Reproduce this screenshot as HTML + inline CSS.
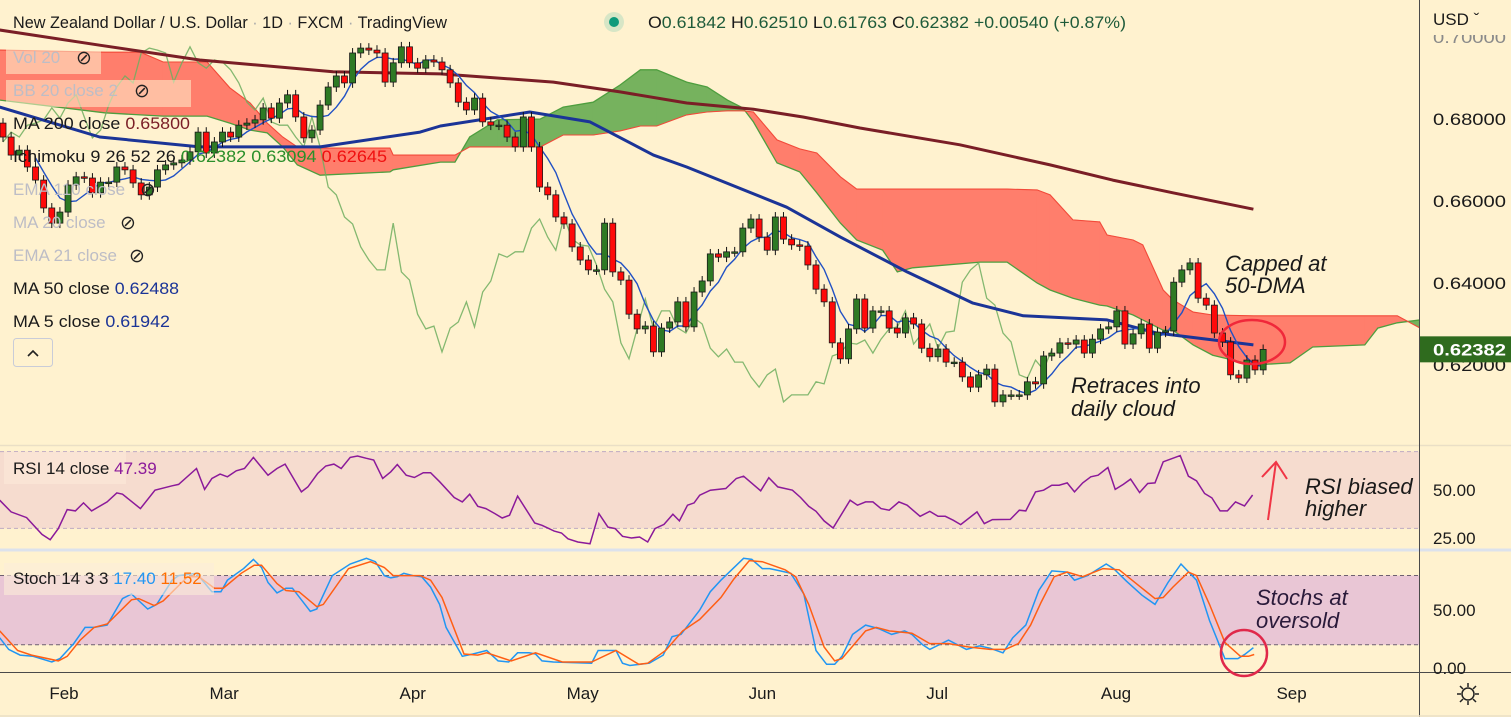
<!DOCTYPE html>
<html><head><meta charset="utf-8">
<style>
html,body{margin:0;padding:0;background:#FFF2CF;}
svg{display:block;font-family:"Liberation Sans","DejaVu Sans",sans-serif;}
</style></head>
<body>
<svg id="chart" width="1511" height="717" viewBox="0 0 1511 717" xmlns="http://www.w3.org/2000/svg">
<rect x="0" y="0" width="1511" height="717" fill="#FFF2CF"/>
<g id="main"></g>
<g id="rsi"></g>
<g id="stoch"></g>
<g id="ui"></g>
</svg>
<script>
// ---------- DATA ----------
const closes = [0.6756,0.6712,0.6724,0.6683,0.6651,0.6583,0.6546,0.6573,0.6639,0.6659,0.6656,0.6620,0.6646,0.6646,0.6683,0.6676,0.6644,0.6615,0.6634,0.6676,0.6688,0.6693,0.6700,0.6720,0.6768,0.6717,0.6744,0.6768,0.6756,0.6785,0.6790,0.6798,0.6827,0.6802,0.6839,0.6859,0.6805,0.6754,0.6773,0.6834,0.6878,0.6905,0.6888,0.6961,0.6973,0.6968,0.6961,0.6890,0.6937,0.6976,0.6937,0.6924,
0.6944,0.6939,0.6920,0.6888,0.6841,0.6822,0.6851,0.6793,0.6785,0.6785,0.6756,0.6732,0.6805,0.6732,0.6634,0.6615,0.6561,0.6544,0.6488,0.6456,0.6432,0.6432,0.6546,0.6427,0.6407,0.6324,0.6288,0.6295,0.6232,0.6290,0.6305,0.6354,0.6293,0.6378,0.6405,0.6471,0.6463,0.6476,0.6476,0.6534,0.6556,0.6512,0.6480,0.6561,0.6507,0.6493,0.6490,0.6444,0.6385,0.6354,0.6254,0.6215,
0.6288,0.6361,0.6290,0.6332,0.6332,0.6290,0.6278,0.6315,0.6300,0.6241,0.6220,0.6239,0.6207,0.6207,0.6171,0.6146,0.6176,0.6190,0.6110,0.6127,0.6127,0.6127,0.6159,0.6154,0.6222,0.6229,0.6254,0.6251,0.6261,0.6229,0.6263,0.6288,0.6293,0.6332,0.6251,0.6276,0.6300,0.6241,0.6280,0.6283,0.6402,0.6432,0.6449,0.6363,0.6346,0.6278,0.6256,0.6176,0.6168,0.6212,0.6188,0.6238];
const firstOpen = 0.6790;

const cloudIdx = [-0.4,12.5,16.9,19.7,25.1,27.9,30.4,32.5,34.4,36.2,39.0,47.6,48.0,53.8,55.6,57.4,60.8,66.1,68.9,72.6,75.9,78.4,80.4,84.1,86.6,89.1,91.0,92.3,95.2,98.0,100.1,103.0,105.0,108.2,110.0,111.9,120.2,123.5,127.2,128.8,131.6,134.9,135.8,139.0,140.2,142.7,143.9,146.4,148.8,153.8,158.3,161.1,167.5,169.1,171.5,174.3];
const spanA = [0.6846,0.6815,0.6810,0.6807,0.6807,0.6790,0.6773,0.6766,0.6732,0.6688,0.6663,0.6671,0.6676,0.6695,0.6695,0.6756,0.6798,0.6800,0.6829,0.6841,0.6883,0.6920,0.6920,0.6890,0.6878,0.6846,0.6827,0.6793,0.6693,0.6671,0.6620,0.6546,0.6505,0.6480,0.6427,0.6437,0.6451,0.6451,0.6400,0.6383,0.6363,0.6346,0.6344,0.6322,0.6310,0.6285,0.6285,0.6249,0.6224,0.6200,0.6205,0.6244,0.6249,0.6290,0.6303,0.6310];
const spanB = [0.6968,0.6963,0.6963,0.6939,0.6939,0.6876,0.6839,0.6790,0.6756,0.6732,0.6729,0.6729,0.6712,0.6712,0.6712,0.6732,0.6732,0.6732,0.6761,0.6761,0.6771,0.6783,0.6783,0.6810,0.6817,0.6820,0.6820,0.6817,0.6749,0.6727,0.6717,0.6659,0.6629,0.6629,0.6629,0.6629,0.6629,0.6629,0.6627,0.6615,0.6554,0.6549,0.6517,0.6505,0.6493,0.6383,0.6359,0.6329,0.6322,0.6320,0.6320,0.6320,0.6320,0.6320,0.6320,0.6290];

const ma50Idx = [-0.4,11.9,24.2,39.0,51.3,53.8,64.8,72.2,80.0,84.1,96.4,103.0,111.2,119.3,125.5,135.8,141.9,153.8];
const ma50Val = [0.6829,0.6756,0.6732,0.6732,0.6768,0.6783,0.6817,0.6793,0.6712,0.6683,0.6585,0.6512,0.6427,0.6351,0.6320,0.6310,0.6278,0.6249];
const ma200Idx = [-0.4,11.9,24.2,40.6,53.8,67.7,75.9,84.1,92.3,98.4,105.4,117.7,128.8,136.5,143.9,153.8];
const ma200Val = [0.7017,0.6980,0.6944,0.6915,0.6910,0.6890,0.6866,0.6839,0.6824,0.6805,0.6778,0.6737,0.6688,0.6651,0.6620,0.6580];

const rsiIdx = [-0.4,1.0,2.9,4.8,5.8,6.8,7.9,8.9,9.9,10.9,12.8,14.0,14.7,16.9,18.7,20.8,21.6,23.8,24.8,25.7,26.7,27.6,28.7,29.7,30.8,32.6,33.7,34.7,36.7,37.5,38.7,39.7,40.7,41.6,42.7,43.6,44.7,45.6,46.7,47.7,48.5,49.6,50.6,51.7,52.6,53.7,55.5,56.5,57.4,58.4,59.4,60.5,61.4,62.3,63.3,65.4,66.3,67.8,68.7,69.5,70.7,72.2,73.3,74.4,75.3,76.2,77.3,78.3,79.3,80.2,81.3,82.4,83.2,84.2,85.0,85.7,
87.0,88.9,90.2,91.1,93.2,94.2,95.3,97.1,98.1,99.1,100.0,101.0,102.1,104.2,105.1,106.1,107.0,108.0,109.0,110.2,111.2,112.8,114.0,115.0,115.9,116.9,117.8,119.8,120.7,121.7,123.9,125.0,125.8,127.0,128.0,129.0,129.9,130.9,131.8,132.8,133.8,134.7,135.9,136.8,137.8,138.7,139.8,140.8,141.7,142.7,144.8,145.8,146.8,147.8,148.7,149.7,150.6,151.6,152.7,153.7];
const rsiVal = [44.7,38.6,35.6,26.9,24.1,29.9,39.8,39.1,43.3,39.1,43.8,48.5,47.8,40.3,49.9,52.2,52.9,61.2,50.3,56.0,58.3,56.9,60.0,61.2,67.0,57.7,61.2,63.5,49.0,51.6,58.6,62.5,63.5,61.2,67.0,67.7,66.5,65.6,56.0,59.5,63.3,57.7,56.5,59.0,59.0,54.3,46.1,43.8,47.8,41.5,40.3,37.7,35.4,36.8,46.8,32.8,31.6,28.6,27.6,24.6,22.9,22.0,37.7,30.7,29.9,25.9,25.0,25.5,22.9,29.9,32.1,37.4,33.9,42.1,43.3,47.3,
49.9,50.8,56.0,57.2,49.6,56.4,51.6,49.9,46.1,41.5,38.9,33.9,30.2,44.7,42.1,43.8,43.8,40.3,39.5,43.8,42.1,36.3,38.9,36.3,36.3,34.2,32.0,38.6,32.5,34.6,34.7,39.5,39.1,49.0,49.9,52.5,52.5,53.7,49.0,53.7,56.9,57.7,61.7,50.3,52.9,55.7,48.7,53.4,53.7,64.7,67.9,57.2,54.8,48.2,45.9,39.1,39.1,43.8,41.7,47.4];

const kIdx = [-0.4,0.7,2.1,3.7,6.0,7.0,8.7,10.1,11.2,12.8,14.7,15.8,17.8,18.9,20.8,21.6,23.8,25.7,26.8,27.6,29.6,30.8,31.8,32.6,33.7,34.8,35.6,37.8,38.6,40.5,42.7,44.7,45.8,46.9,47.7,48.5,49.3,50.4,51.5,52.6,53.7,54.5,56.5,57.8,59.5,60.9,62.2,63.3,64.7,65.5,66.3,67.7,72.4,73.2,75.4,76.2,77.1,78.4,79.5,81.2,82.3,83.4,84.6,85.7,
87.0,88.3,91.1,92.1,93.4,94.3,95.6,96.9,98.5,100.0,101.3,102.3,103.2,104.5,106.1,107.7,109.3,110.9,111.8,113.1,114.0,116.3,118.5,120.1,121.4,123.0,124.2,125.8,127.4,129.0,130.9,131.8,133.4,135.7,136.6,138.2,140.1,141.7,143.3,144.9,146.8,148.4,150.3,151.9,152.8,153.8];
const kVal = [26,16,11,10,5,8,21,35,35,37,60,64,51,55,76,80,82,66,66,76,86,94,87,74,65,69,69,49,51,80,90,95,92,80,78,79,82,80,79,70,55,35,10,12,15,6,5,13,13,12,6,5,4,15,15,4,2,3,4,11,27,29,40,50,
66,76,95,94,86,86,84,82,64,15,3,3,10,29,37,34,29,32,29,20,16,24,16,19,17,13,26,37,67,84,83,76,80,90,86,75,63,55,74,90,76,41,8,8,12,17.4];
const dIdx = [-0.4,1.8,3.5,6.8,7.9,9.5,11.2,12.8,15.8,16.7,18.6,19.7,22.7,24.1,26.0,27.1,29.3,30.9,31.8,33.7,34.8,36.4,38.6,39.4,42.5,45.2,46.9,48.0,51.3,52.6,54.0,56.7,58.4,59.5,62.5,65.5,68.8,72.4,75.4,78.2,79.3,81.5,83.6,85.7,
88.3,89.9,91.8,93.4,96.2,97.5,99.1,101.0,102.3,103.2,106.1,107.4,109.0,111.8,114.0,116.3,118.8,121.4,123.3,124.9,126.4,127.7,129.3,130.9,132.8,135.3,137.3,140.1,141.7,142.7,143.9,145.8,146.8,148.4,150.3,152.2,153.2,153.9];
const dVal = [32,15,11,6,10,24,35,38,59,60,54,58,79,79,69,69,82,89,89,73,67,66,53,55,86,92,87,80,80,76,61,12,11,13,6,13,5,5,15,3,4,15,32,42,
61,77,93,92,85,79,55,18,6,8,32,35,32,30,21,21,18,16,16,21,37,57,79,83,79,86,85,69,60,61,70,83,80,55,22,10,10,11.5];

const priceTicks = [0.70,0.68,0.66,0.64,0.62];
const priceTickLabels = ["0.70000","0.68000","0.66000","0.64000","0.62000"];
const months = ["Feb","Mar","Apr","May","Jun","Jul","Aug","Sep"];
const monthIdx = [7.5,27.2,50.4,71.3,93.4,114.9,136.9,158.5];
const lastPrice = 0.62382;

// ---------- AXES ----------
const NS = "http://www.w3.org/2000/svg";
const xOf = i => 3 + 8.13 * i;
const yP = p => 365 - (p - 0.62) * 4100;
const yR = v => 490 - (v - 50) * 1.92;
const yS = v => 667.8 - v * 1.153;

function mk(parent, tag, attrs, text) {
  const e = document.createElementNS(NS, tag);
  for (const k in attrs) e.setAttribute(k, attrs[k]);
  if (text !== undefined) e.textContent = text;
  parent.appendChild(e);
  return e;
}
const main = document.getElementById('main');
const rsiG = document.getElementById('rsi');
const stG = document.getElementById('stoch');
const ui = document.getElementById('ui');

const defs = mk(document.getElementById('chart'), 'defs', {});
const cp = mk(defs, 'clipPath', {id: 'mainclip'});
mk(cp, 'rect', {x: 0, y: 0, width: 1419, height: 445});
main.setAttribute('clip-path', 'url(#mainclip)');

// ---------- CLOUD ----------
const cloudG = mk(main, 'g', {});


for (let i = 0; i < cloudIdx.length - 1; i++) {
  const x0 = xOf(cloudIdx[i]), x1 = xOf(cloudIdx[i + 1]);
  const a0 = spanA[i], a1 = spanA[i + 1], b0 = spanB[i], b1 = spanB[i + 1];
  const d0 = a0 - b0, d1 = a1 - b1;
  const segs = [];
  if (d0 * d1 >= 0) segs.push([x0, a0, b0, x1, a1, b1, (d0 + d1) >= 0]);
  else {
    const t = d0 / (d0 - d1), xm = x0 + (x1 - x0) * t, pm = a0 + (a1 - a0) * t;
    segs.push([x0, a0, b0, xm, pm, pm, d0 > 0]);
    segs.push([xm, pm, pm, x1, a1, b1, d1 > 0]);
  }
  for (const s of segs) {
    const poly = mk(cloudG, 'polygon', {
      points: `${s[0]},${yP(s[1])} ${s[3]},${yP(s[4])} ${s[3]},${yP(s[5])} ${s[0]},${yP(s[2])}`,
      fill: s[6] ? '#76B25E' : '#FF7E6C', stroke: s[6] ? '#76B25E' : '#FF7E6C', 'stroke-width': 0.6
    });
    
    
  }
}
function polyline(parent, xs, ys, attrs, name) {
  const pts = xs.map((x, i) => `${x.toFixed(1)},${ys[i].toFixed(1)}`).join(' ');
  const e = mk(parent, 'polyline', Object.assign({points: pts, fill: 'none'}, attrs));
  
  
  return e;
}
polyline(main, cloudIdx.map(xOf), spanA.map(yP), {stroke: '#4E9E3F', 'stroke-width': 1.3}, 'senkou-span-a');
polyline(main, cloudIdx.map(xOf), spanB.map(yP), {stroke: '#F24A3A', 'stroke-width': 1.1}, 'senkou-span-b');

const chX = [], chY = [];
for (let i = 26; i < closes.length; i++) { chX.push(xOf(i - 26)); chY.push(yP(closes[i])); }
polyline(main, chX, chY, {stroke: '#6FAE5F', 'stroke-width': 1.3, opacity: 0.85}, 'chikou-span');

polyline(main, ma200Idx.map(xOf), ma200Val.map(yP), {stroke: '#7A1E26', 'stroke-width': 3, 'stroke-linejoin': 'round'}, 'ma200-line');
polyline(main, ma50Idx.map(xOf), ma50Val.map(yP), {stroke: '#1B3497', 'stroke-width': 3, 'stroke-linejoin': 'round'}, 'ma50-line');
const m5x = [], m5y = [];
for (let i = 4; i < closes.length; i++) {
  let s = 0; for (let k = i - 4; k <= i; k++) s += closes[k];
  m5x.push(xOf(i)); m5y.push(yP(s / 5));
}
polyline(main, m5x, m5y, {stroke: '#2151C4', 'stroke-width': 1.4}, 'ma5-line');

const candleG = mk(main, 'g', {});


for (let i = 0; i < closes.length; i++) {
  const o = i === 0 ? firstOpen : closes[i - 1], c = closes[i];
  const up = c >= o;
  const hi = Math.max(o, c) + 0.0012, lo = Math.min(o, c) - 0.0012;
  const x = xOf(i);
  const w = mk(candleG, 'line', {x1: x, x2: x, y1: yP(hi), y2: yP(lo), stroke: '#111', 'stroke-width': 1});
  
  
  const top = yP(Math.max(o, c)), h = Math.max(1.5, yP(Math.min(o, c)) - top);
  const b = mk(candleG, 'rect', {x: x - 3, y: top, width: 6, height: h, fill: up ? '#2E7A24' : '#FF0A0A', stroke: '#1a1a1a', 'stroke-width': 0.8});
  
  
}

// ---------- RSI ----------
mk(rsiG, 'rect', {x: 0, y: yR(70), width: 1419, height: yR(30) - yR(70), fill: '#F6DCCF'});
mk(rsiG, 'line', {x1: 0, x2: 1419, y1: yR(70), y2: yR(70), stroke: '#BFA9C2', 'stroke-dasharray': '4 3'});
mk(rsiG, 'line', {x1: 0, x2: 1419, y1: yR(30), y2: yR(30), stroke: '#BFA9C2', 'stroke-dasharray': '4 3'});
polyline(rsiG, rsiIdx.map(xOf), rsiVal.map(yR), {stroke: '#8B1A9A', 'stroke-width': 1.5}, 'rsi-line');

// ---------- STOCH ----------
mk(stG, 'rect', {x: 0, y: yS(80), width: 1419, height: yS(20) - yS(80), fill: '#E9C6D5'});
mk(stG, 'line', {x1: 0, x2: 1419, y1: yS(80), y2: yS(80), stroke: '#6E6070', 'stroke-dasharray': '4 3'});
mk(stG, 'line', {x1: 0, x2: 1419, y1: yS(20), y2: yS(20), stroke: '#6E6070', 'stroke-dasharray': '4 3'});
polyline(stG, kIdx.map(xOf), kVal.map(yS), {stroke: '#2196F3', 'stroke-width': 1.5}, 'stoch-k-line');
polyline(stG, dIdx.map(xOf), dVal.map(yS), {stroke: '#FF5E14', 'stroke-width': 1.5}, 'stoch-d-line');

// ---------- FRAME / AXES ----------
mk(ui, 'line', {x1: 0, x2: 1511, y1: 445.5, y2: 445.5, stroke: '#EADFC6', 'stroke-width': 1.5});
mk(ui, 'rect', {x: 0, y: 548.5, width: 1511, height: 3, fill: '#DCE2EC'});
mk(ui, 'line', {x1: 0, x2: 1511, y1: 672.5, y2: 672.5, stroke: '#4A4A4A', 'stroke-width': 1});
mk(ui, 'line', {x1: 1419.5, x2: 1419.5, y1: 0, y2: 717, stroke: '#4A4A4A', 'stroke-width': 1});
mk(ui, 'line', {x1: 0, x2: 1511, y1: 716, y2: 716, stroke: '#EADFC6', 'stroke-width': 1.5});

priceTicks.forEach((p, i) => {
  const t = mk(ui, 'text', {x: 1433, y: yP(p) + 6, 'font-size': 17, textLength: 73, lengthAdjust: 'spacingAndGlyphs', fill: i === 0 ? '#8a8a8a' : '#1a1a1a'}, priceTickLabels[i]);
  
  
});
mk(ui, 'rect', {x: 1421, y: 0, width: 90, height: 35, fill: '#FFF2CF'});
const usd = mk(ui, 'text', {x: 1433, y: 25, 'font-size': 17, fill: '#1a1a1a'}, 'USD \u02C7');



const lp = mk(ui, 'rect', {x: 1420, y: yP(lastPrice) - 13, width: 91, height: 26, fill: '#2F6B1E'});


mk(ui, 'text', {x: 1433, y: yP(lastPrice) + 6, 'font-size': 17, textLength: 73, lengthAdjust: 'spacingAndGlyphs', 'font-weight': 'bold', fill: '#fff'}, lastPrice.toFixed(5));

[['50.00', yR(50)], ['25.00', yR(25)], ['50.00', yS(50)], ['0.00', yS(0)]].forEach(([s, y]) => {
  const t = mk(ui, 'text', {x: 1433, y: y + 6, 'font-size': 17, fill: '#1a1a1a'}, s);
  
  
});
months.forEach((m, i) => {
  const t = mk(ui, 'text', {x: xOf(monthIdx[i]), y: 699, 'font-size': 17, fill: '#1a1a1a', 'text-anchor': 'middle'}, m);
  
  
});
</script>

<svg style="position:absolute;left:0;top:0" width="1511" height="717" viewBox="0 0 1511 717" xmlns="http://www.w3.org/2000/svg">
  <g font-family="Liberation Sans, DejaVu Sans, sans-serif">
  <text x="13" y="28" font-size="17" textLength="434" lengthAdjust="spacingAndGlyphs" fill="#1a1a1a">New Zealand Dollar / U.S. Dollar <tspan fill="#aaa">·</tspan> 1D <tspan fill="#aaa">·</tspan> FXCM <tspan fill="#aaa">·</tspan> TradingView</text>
  <circle cx="614" cy="22" r="10" fill="#D7E6C6"/>
  <circle cx="614" cy="22" r="5" fill="#0E9A7A"/>
  <text x="648" y="28" font-size="17" textLength="478" lengthAdjust="spacingAndGlyphs" fill="#1E5B3A"><tspan fill="#1a1a1a">O</tspan>0.61842 <tspan fill="#1a1a1a">H</tspan>0.62510 <tspan fill="#1a1a1a">L</tspan>0.61763 <tspan fill="#1a1a1a">C</tspan>0.62382 +0.00540 (+0.87%)</text>

  <g font-size="17">
    <rect x="6" y="47" width="95" height="27" fill="#FFF2CF" opacity="0.55"/>
    <text x="13" y="63" fill="#BDBDC6">Vol 20</text>
    <text x="76" y="64" font-size="19" fill="#222">⊘</text>
    <rect x="6" y="80" width="185" height="27" fill="#FFF2CF" opacity="0.55"/>
    <text x="13" y="96" fill="#BDBDC6">BB 20 close 2</text>
    <text x="134" y="97" font-size="19" fill="#222">⊘</text>
    <text x="13" y="129" textLength="177" lengthAdjust="spacingAndGlyphs" fill="#1a1a1a">MA 200 close <tspan fill="#7A1E26">0.65800</tspan></text>
    <text x="13" y="162" textLength="374" lengthAdjust="spacingAndGlyphs" fill="#1a1a1a">Ichimoku 9 26 52 26 <tspan fill="#2A8F2A">0.62382</tspan> <tspan fill="#2A8F2A">0.63094</tspan> <tspan fill="#F01010">0.62645</tspan></text>
    <text x="13" y="195" fill="#BDBDC6">EMA 110 close</text>
    <text x="140" y="196" font-size="19" fill="#222">⊘</text>
    <text x="13" y="228" fill="#BDBDC6">MA 20 close</text>
    <text x="120" y="229" font-size="19" fill="#222">⊘</text>
    <text x="13" y="261" fill="#BDBDC6">EMA 21 close</text>
    <text x="129" y="262" font-size="19" fill="#222">⊘</text>
    <text x="13" y="294" textLength="166" lengthAdjust="spacingAndGlyphs" fill="#1a1a1a">MA 50 close <tspan fill="#1B3497">0.62488</tspan></text>
    <text x="13" y="327" textLength="157" lengthAdjust="spacingAndGlyphs" fill="#1a1a1a">MA 5 close <tspan fill="#1B3497">0.61942</tspan></text>
    <rect x="13.5" y="338.5" width="39" height="28" rx="3" fill="none" stroke="#C9CCD8"/>
    <polyline points="28,356 33,351 38,356" fill="none" stroke="#222" stroke-width="1.6"/>

    <rect x="4" y="452" width="122" height="32" fill="#FBE6D6" opacity="0.8"/>
    <text x="13" y="474" fill="#1a1a1a">RSI 14 close <tspan fill="#8B1A9A">47.39</tspan></text>
    <rect x="4" y="563" width="210" height="32" fill="#FBECD8" opacity="0.6"/>
    <text x="13" y="584" fill="#1a1a1a">Stoch 14 3 3 <tspan fill="#2196F3">17.40</tspan> <tspan fill="#FF6D00">11.52</tspan></text>
  </g>

  <g font-size="22" font-style="italic" fill="#1a1a1a">
    <text x="1225" y="271">Capped at</text>
    <text x="1225" y="293">50-DMA</text>
    <text x="1071" y="393">Retraces into</text>
    <text x="1071" y="416">daily cloud</text>
    <text x="1305" y="494">RSI biased</text>
    <text x="1305" y="516">higher</text>
    <text x="1256" y="605" fill="#2a1a3a">Stochs at</text>
    <text x="1256" y="628" fill="#2a1a3a">oversold</text>
  </g>
  <ellipse cx="1252" cy="342" rx="33" ry="22" fill="none" stroke="#F0283A" stroke-width="2.5"/>
  <circle cx="1244" cy="653" r="23" fill="none" stroke="#E0284A" stroke-width="2.5"/>
  <g stroke="#F03545" stroke-width="2" fill="none">
    <line x1="1268" y1="520" x2="1276" y2="462"/>
    <polyline points="1262,477 1276,462 1287,479"/>
  </g>
  <g stroke="#222" stroke-width="1.5" fill="none">
    <circle cx="1468" cy="694" r="6"/>
    <path d="M1468 683v4M1468 701v4M1457 694h4M1475 694h4M1460 686l3 3M1473 699l3 3M1460 702l3-3M1473 689l3-3"/>
  </g>
  </g>
</svg>
</body></html>
